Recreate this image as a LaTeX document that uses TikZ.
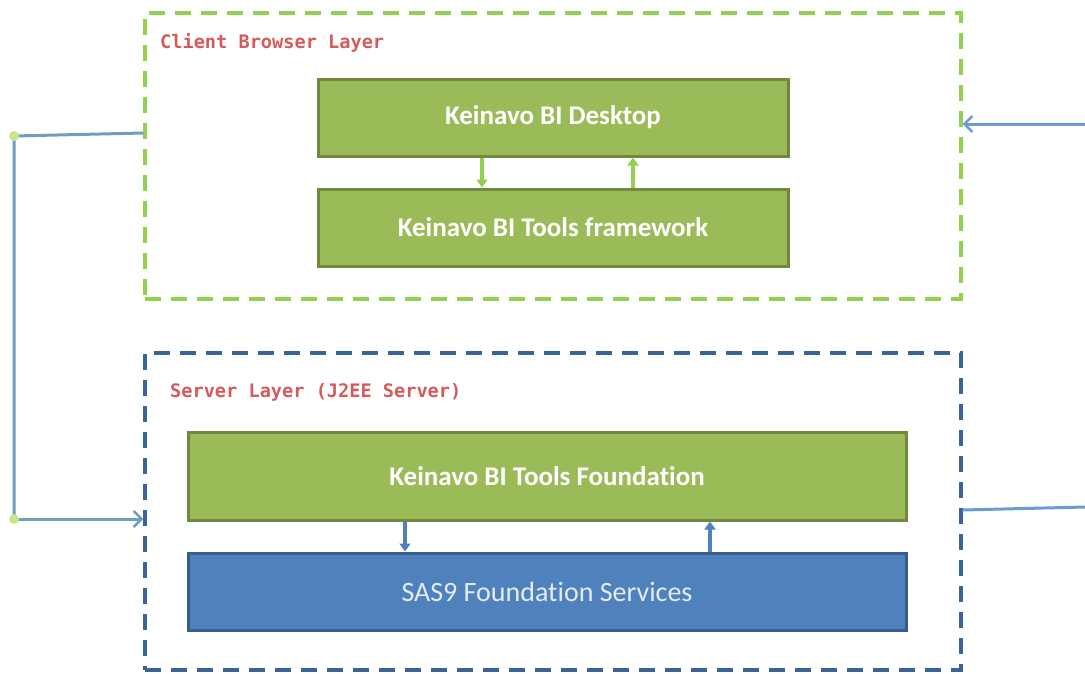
\documentclass[tikz,border=0pt]{standalone}
\usepackage{fontspec}
\setmainfont{Carlito}[Ligatures=NoCommon]
\newfontfamily\monof{DejaVu Sans Mono}
\usetikzlibrary{arrows.meta}
\definecolor{lgreen}{HTML}{92D050}
\definecolor{boxgreen}{HTML}{9BBB59}
\definecolor{boxgreenb}{HTML}{71893F}
\definecolor{boxblue}{HTML}{4F81BD}
\definecolor{boxblueb}{HTML}{385D8A}
\definecolor{dblue}{HTML}{3A6396}
\definecolor{lblred}{HTML}{D65A5A}
\definecolor{linkblue}{HTML}{6F9DBF}
\definecolor{rblue}{HTML}{6A9BD6}
\definecolor{dotgreen}{HTML}{C8E68C}
\begin{document}
\begin{tikzpicture}[x=1pt,y=-1pt,
  layer/.style={draw, line width=3.2pt, dash pattern=on 16pt off 10pt, minimum width=816pt, inner sep=0pt},
  gbox/.style={draw=boxgreenb, fill=boxgreen, line width=3pt, inner sep=0pt, text=white, font=\fontsize{27}{30}\selectfont\bfseries},
  bbox/.style={draw=boxblueb, fill=boxblue, line width=3pt, inner sep=0pt, text=white!85!boxblue, font=\fontsize{28}{31}\selectfont},
  lbl/.style={text=lblred, font=\monof\bfseries\fontsize{18.6}{21}\selectfont, anchor=base west, inner sep=0pt},
  garrow/.style={draw=lgreen, line width=3.5pt, -{Triangle[length=8pt,width=11pt]}},
  barrow/.style={draw=boxblue, line width=3.5pt, -{Triangle[length=8pt,width=11pt]}},
  link/.style={draw=linkblue, line width=3pt},
  dot/.style={circle, fill=dotgreen, inner sep=0pt, minimum size=10pt}
]
\useasboundingbox (0,0) rectangle (1085,673);
% layers
\node[layer, draw=lgreen, minimum height=286pt] (client) at (553,156) {};
\node[layer, draw=dblue, minimum height=317pt] (server) at (553,511.5) {};
\node[lbl] (clbl) at (160,48) {Client Browser Layer};
\node[lbl] (slbl) at (170,397) {Server Layer (J2EE Server)};
% boxes
\node[gbox, minimum width=470pt, minimum height=77pt] (desk) at (553,117.5) {Keinavo BI Desktop};
\node[gbox, minimum width=470pt, minimum height=77pt] (fw) at (553,227.5) {Keinavo BI Tools framework};
\node[gbox, minimum width=718pt, minimum height=88pt] (fnd) at (547,476) {Keinavo BI Tools Foundation};
\node[bbox, minimum width=718pt, minimum height=77pt] (sas) at (547,591.5) {SAS9 Foundation Services};
% inner arrows
\draw[garrow] ([xshift=-71pt]desk.south) -- ([xshift=-71pt]fw.north);
\draw[garrow] ([xshift=80pt]fw.north) -- ([xshift=80pt]desk.south);
\draw[barrow] ([xshift=-142pt]fnd.south) -- ([xshift=-142pt]sas.north);
\draw[barrow] ([xshift=163pt]sas.north) -- ([xshift=163pt]fnd.south);
% left link
\coordinate (lt) at (14,136);
\coordinate (lb) at (14,519);
\draw[link] ([yshift=23pt]client.west) -- (lt) -- (lb);
\draw[link, -{Straight Barb[length=8pt,width=16pt,line width=2.5pt]}] (lb) -- ([yshift=-7.5pt]server.west);
\node[dot] (d1) at (lt) {};
\node[dot] (d2) at (lb) {};
% right links
\coordinate (r1) at (1085,124);
\coordinate (r2) at (1085,507);
\draw[draw=rblue, line width=3pt, -{Straight Barb[length=8pt,width=16pt,line width=2.5pt]}] (r1) -- ([yshift=32pt]client.east);
\draw[draw=rblue, line width=3pt] (r2) -- ([yshift=1.5pt]server.east);
\end{tikzpicture}
\end{document}
